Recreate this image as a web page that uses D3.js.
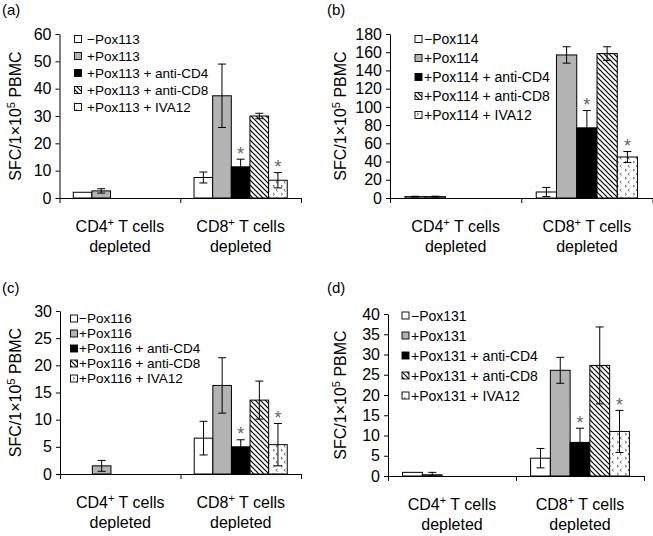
<!DOCTYPE html>
<html><head><meta charset="utf-8">
<script src="https://cdn.jsdelivr.net/npm/d3@7"></script>
<style>body{margin:0;background:#fff}svg{display:block;font-family:"Liberation Sans",Arial,sans-serif}</style>
</head><body><svg id="c" width="653" height="536"></svg>
<script>
// ---- data ----
const categories = ["CD4", "CD8"];           // "CD4⁺ T cells depleted", "CD8⁺ T cells depleted"
const peptides = ["Pox113", "Pox114", "Pox116", "Pox131"];
const panelLabels = ["(a)", "(b)", "(c)", "(d)"];
const yMaxes = [60, 180, 30, 40];
const yTickSteps = [10, 20, 5, 5];
const treatmentSuffix = ["", "", " + anti-CD4", " + anti-CD8", " + IVA12"];
const treatmentSign = ["\u2212", "+", "+", "+", "+"];
// means [CD4 group, CD8 group], 5 treatments each
const meanA = [[2.1, 2.6, null, null, null], [7.5, 37.4, 11.4, 30.0, 6.5]];
const errA  = [[0, 0.8, 0, 0, 0], [2.0, 11.6, 2.8, 1.0, 2.8]];
const meanB = [[1.5, 1.5, null, null, null], [6.6, 157, 77, 158.5, 45]];
const errB  = [[0.4, 0.5, 0, 0, 0], [5.0, 9.0, 19, 7.5, 6.0]];
const meanC = [[null, 1.5, null, null, null], [6.6, 16.3, 5.0, 13.6, 5.4]];
const errC  = [[0, 1.0, 0, 0, 0], [3.1, 5.1, 1.3, 3.5, 3.9]];
const meanD = [[0.9, 0.3, null, null, null], [4.4, 26.1, 8.3, 27.3, 11.0]];
const errD  = [[0, 0.6, 0, 0, 0], [2.4, 3.2, 3.5, 9.5, 5.2]];
const starredTreatments = [2, 4]; // asterisks in CD8 group

const means = [meanA, meanB, meanC, meanD];
const errs = [errA, errB, errC, errD];

// ---- layout ----
const boxes = [
  {l: 59.5, t: 34, b: 198, r: 301, titleX: 21, labX: 2, labY: 15, legX: 74.5, legT: 87, legY: 39, legS: 17, legF: 13.5},
  {l: 390, t: 34, b: 198, r: 652.5, titleX: 346, labX: 327, labY: 15, legX: 415, legT: 424, legY: 39, legS: 19, legF: 14},
  {l: 60, t: 311, b: 474, r: 301, titleX: 21, labX: 2, labY: 293, legX: 70.5, legT: 79, legY: 318.5, legS: 15, legF: 13.5},
  {l: 388, t: 314, b: 476, r: 644, titleX: 346, labX: 327, labY: 293, legX: 402, legT: 411, legY: 315.5, legS: 20, legF: 14}
];

const svg = d3.select("#c");
const defs = svg.append("defs");
const hp = 5;
const hatch = defs.append("pattern").attr("id", "hatch").attr("patternUnits", "userSpaceOnUse")
  .attr("width", hp).attr("height", hp);
hatch.append("rect").attr("width", hp).attr("height", hp).attr("fill", "#fff");
hatch.append("path").attr("d", `M-1,-1 L${hp + 1},${hp + 1} M-1,${hp - 1} L1,${hp + 1} M${hp - 1},-1 L${hp + 1},1`)
  .attr("stroke", "#000").attr("stroke-width", 1.2);
const dots = defs.append("pattern").attr("id", "dots").attr("patternUnits", "userSpaceOnUse")
  .attr("width", 8).attr("height", 8);
dots.append("rect").attr("width", 8).attr("height", 8).attr("fill", "#fff");
dots.append("path").attr("d", "M1,1 l1.6,1.2 l-1.6,1.2 M5.5,5 l-1.6,1.2 l1.6,1.2")
  .attr("stroke", "#444").attr("stroke-width", 0.8).attr("fill", "none");

const fills = ["#fff", "#b3b3b3", "#000", "url(#hatch)", "url(#dots)"];

boxes.forEach((bx, pi) => {
  const g = svg.append("g");
  const y = d3.scaleLinear().domain([0, yMaxes[pi]]).range([bx.b, bx.t]);
  const x0 = d3.scaleBand().domain(categories).range([bx.l, bx.r]).paddingInner(0.228).paddingOuter(0.114);
  const x1 = d3.scaleBand().domain(d3.range(5)).range([0, x0.bandwidth()]);

  // bars
  categories.forEach((cat, ci) => {
    means[pi][ci].forEach((m, ti) => {
      if (m == null) return;
      const xx = x0(cat) + x1(ti);
      g.append("rect").attr("x", xx).attr("y", y(m)).attr("width", x1.bandwidth())
        .attr("height", y(0) - y(m)).attr("fill", fills[ti]).attr("stroke", "#000").attr("stroke-width", 1);
      const e = errs[pi][ci][ti];
      const cx = xx + x1.bandwidth() / 2;
      if (e > 0) {
        const y1 = y(m + e), y2 = y(Math.max(0, m - e));
        g.append("line").attr("x1", cx).attr("x2", cx).attr("y1", y1).attr("y2", y2).attr("stroke", "#000");
        [y1, y2].forEach(yy => g.append("line").attr("x1", cx - 4).attr("x2", cx + 4)
          .attr("y1", yy).attr("y2", yy).attr("stroke", "#000"));
      }
      if (ci === 1 && starredTreatments.includes(ti)) {
        g.append("text").attr("x", cx).attr("y", y(m + e) + 0.5).attr("text-anchor", "middle")
          .attr("font-size", 18).attr("fill", "#666").text("*");
      }
    });
  });

  // y axis
  const ya = g.append("g").attr("transform", `translate(${bx.l},0)`)
    .call(d3.axisLeft(y).tickValues(d3.range(0, yMaxes[pi] + 0.001, yTickSteps[pi]))
      .tickSize(4).tickSizeOuter(0).tickPadding(4));
  ya.selectAll("text").attr("font-size", 16).attr("font-family", "Liberation Sans, Arial").attr("fill", "#000");
  ya.selectAll("line,path").attr("stroke", "#000");

  // x axis
  const xl = d3.scaleLinear().domain([0, 2]).range([bx.l, bx.r]);
  const xa = g.append("g").attr("transform", `translate(0,${bx.b})`)
    .call(d3.axisBottom(xl).tickValues([0, 1, 2]).tickFormat("").tickSize(5).tickSizeOuter(0));
  xa.selectAll("line,path").attr("stroke", "#000");

  // category labels
  categories.forEach(cat => {
    const cx = x0(cat) + x0.bandwidth() / 2;
    const t = g.append("text").attr("x", cx).attr("y", bx.b + 34).attr("text-anchor", "middle").attr("font-size", 16);
    t.append("tspan").text(cat);
    t.append("tspan").attr("font-size", 11).attr("dy", -6).text("+");
    t.append("tspan").attr("dy", 6).text(" T cells");
    g.append("text").attr("x", cx).attr("y", bx.b + 53.5).attr("text-anchor", "middle").attr("font-size", 16).text("depleted");
  });

  // y title
  const tt = g.append("text").attr("transform", `translate(${bx.titleX},${(bx.t + bx.b) / 2}) rotate(-90)`)
    .attr("text-anchor", "middle").attr("font-size", 16);
  tt.append("tspan").text("SFC/1\u00d710");
  tt.append("tspan").attr("font-size", 11).attr("dy", -6).text("5");
  tt.append("tspan").attr("dy", 6).text(" PBMC");

  // panel label
  g.append("text").attr("x", bx.labX).attr("y", bx.labY).attr("font-size", 15).text(panelLabels[pi]);

  // legend
  d3.range(5).forEach(ti => {
    const cy = bx.legY + ti * bx.legS;
    g.append("rect").attr("x", bx.legX).attr("y", cy - 3.5).attr("width", 7).attr("height", 7)
      .attr("fill", fills[ti]).attr("stroke", "#000").attr("stroke-width", 0.9);
    g.append("text").attr("x", bx.legT).attr("y", cy + bx.legF * 0.36).attr("font-size", bx.legF)
      .text(treatmentSign[ti] + peptides[pi] + treatmentSuffix[ti]);
  });
});
</script></body></html>
